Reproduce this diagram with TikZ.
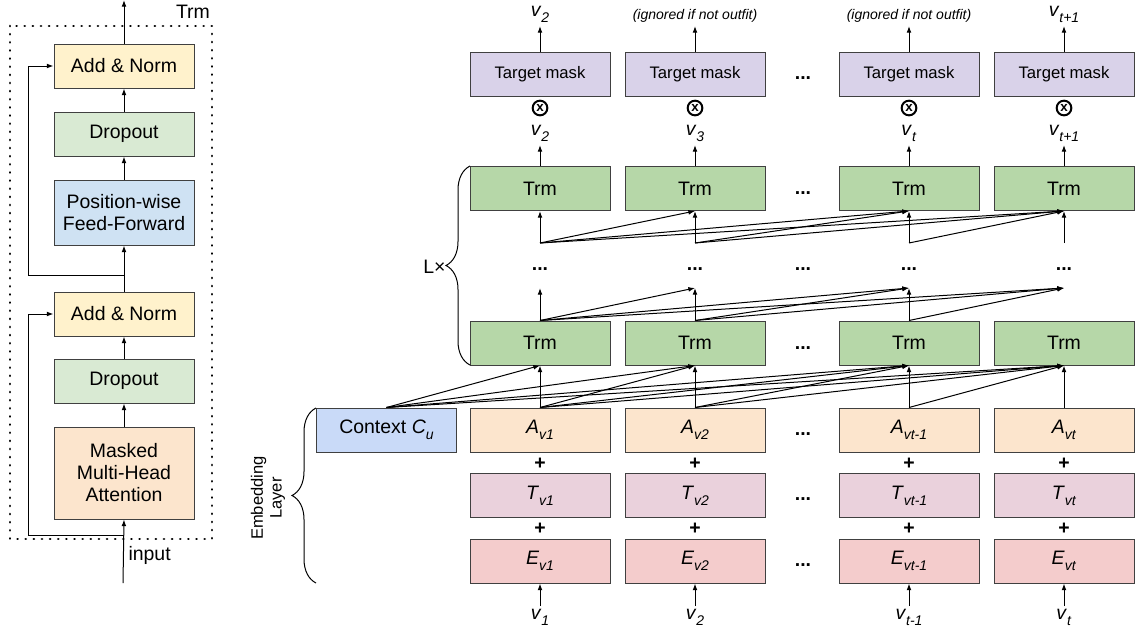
\documentclass[tikz,border=0pt]{standalone}
\usepackage{fontspec}
\setmainfont{Liberation Sans}
\usetikzlibrary{arrows.meta,decorations.pathreplacing}

\definecolor{cAddNorm}{HTML}{FFF2CC}
\definecolor{cDrop}{HTML}{D9EAD3}
\definecolor{cFfn}{HTML}{CFE2F3}
\definecolor{cAttn}{HTML}{FCE5CD}
\definecolor{cTrm}{HTML}{B6D7A8}
\definecolor{cMask}{HTML}{D9D2E9}
\definecolor{cCtx}{HTML}{C9DAF8}
\definecolor{cAemb}{HTML}{FCE5CD}
\definecolor{cTemb}{HTML}{EAD1DC}
\definecolor{cEemb}{HTML}{F4CCCC}

\newcommand{\mainfs}{\fontsize{14.6}{16.5}\selectfont}
\newcommand{\smallfs}{\fontsize{10.5}{12}\selectfont}
\newcommand{\lsub}[2]{\textit{#1}\raisebox{-0.6ex}{\smallfs\textit{#2}}}

\tikzset{every picture/.style={line width=0.75pt},
  blk/.style={draw=black!75, minimum width=105pt, minimum height=33pt, inner sep=0pt, font=\mainfs, align=center},
  arr/.style={-{Latex[length=5pt,width=3.6pt]}},
  lbl/.style={font=\mainfs, inner sep=2pt},
  dotsl/.style={font=\mainfs\bfseries, inner sep=0pt},
  mul/.style={circle, draw, line width=1.5pt, minimum size=11pt, inner sep=0pt, font=\fontsize{10}{10}\selectfont\bfseries},
  brc/.style={decorate, decoration={brace, amplitude=18pt}}
}

\begin{document}
\begin{tikzpicture}[x=0.75pt,y=0.75pt,yscale=-1,xscale=1]
\useasboundingbox (0,0) rectangle (1139,639);

%Shape: Trm block (left)
\draw [dash pattern=on 0.1pt off 6pt, line cap=round, line width=2pt] (10,26) rectangle (212,539) ;
\node [font=\mainfs] (trmlabel) at (193,12) {Trm};
\node [blk, fill=cAddNorm] (addnorm2) at (124,66) {Add \& Norm};
\node [blk, fill=cDrop] (drop2) at (124,134) {Dropout};
\node [blk, fill=cFfn, minimum height=48.75pt] (ffn) at (124,212.5) {Position-wise\\Feed-Forward};
\node [blk, fill=cAddNorm] (addnorm1) at (124,314) {Add \& Norm};
\node [blk, fill=cDrop] (drop1) at (124,381) {Dropout};
\node [blk, fill=cAttn, minimum height=69pt] (mha) at (124,473) {Masked\\Multi-Head\\Attention};
% Text Node
\node [font=\mainfs, anchor=west, inner sep=0pt] (inputlabel) at (128,555) {input};
\coordinate (inp) at (123,583);
\coordinate (ltop) at (124,0);
\coordinate (res1) at (124,535);
\coordinate (res2) at (124,275);

%Straight Lines
\draw [arr] (inp) -- (mha.south) ;
\draw [arr] (mha) -- (drop1) ;
\draw [arr] (drop1) -- (addnorm1) ;
\draw [arr] (addnorm1) -- (ffn) ;
\draw [arr] (ffn) -- (drop2) ;
\draw [arr] (drop2) -- (addnorm2) ;
\draw [arr] (addnorm2) -- (ltop) ;
\draw [arr] (res1) -- ++(-96,0) |- (addnorm1.west) ;
\draw [arr] (res2) -- ++(-96,0) |- (addnorm2.west) ;

%Shape: output masks
\node [blk, fill=cMask, font=\fontsize{12.5}{14}\selectfont] (mask1) at (540,74) {Target mask};
\node [blk, fill=cMask, font=\fontsize{12.5}{14}\selectfont] (mask2) at (695,74) {Target mask};
\node [blk, fill=cMask, font=\fontsize{12.5}{14}\selectfont] (mask3) at (909,74) {Target mask};
\node [blk, fill=cMask, font=\fontsize{12.5}{14}\selectfont] (mask4) at (1064,74) {Target mask};
\node [dotsl] (dmask) at (803,78) {...};

\node [lbl, anchor=south] (vo1) at (540,26) {\lsub{v}{2}};
\node [lbl, anchor=south, font=\smallfs\itshape] (vo2) at (695,26) {(ignored if not outfit)};
\node [lbl, anchor=south, font=\smallfs\itshape] (vo3) at (909,26) {(ignored if not outfit)};
\node [lbl, anchor=south] (vo4) at (1064,26) {\lsub{v}{t+1}};
\draw [arr] (mask1) -- (vo1) ;
\draw [arr] (mask2) -- (vo2) ;
\draw [arr] (mask3) -- (vo3) ;
\draw [arr] (mask4) -- (vo4) ;

\node [mul] (ox1) at (540,108) {x};
\node [mul] (ox2) at (695,108) {x};
\node [mul] (ox3) at (909,108) {x};
\node [mul] (ox4) at (1064,108) {x};

\node [lbl, anchor=south] (vm1) at (540,145) {\lsub{v}{2}};
\node [lbl, anchor=south] (vm2) at (695,145) {\lsub{v}{3}};
\node [lbl, anchor=south] (vm3) at (909,145) {\lsub{v}{t}};
\node [lbl, anchor=south] (vm4) at (1064,145) {\lsub{v}{t+1}};

%Shape: Trm layers
\node [blk, fill=cTrm] (trmu1) at (540,188.5) {Trm};
\node [blk, fill=cTrm] (trmu2) at (695,188.5) {Trm};
\node [blk, fill=cTrm] (trmu3) at (909,188.5) {Trm};
\node [blk, fill=cTrm] (trmu4) at (1064,188.5) {Trm};
\node [dotsl] (dtrmu) at (803,193) {...};
\node [blk, fill=cTrm] (trml1) at (540,343) {Trm};
\node [blk, fill=cTrm] (trml2) at (695,343) {Trm};
\node [blk, fill=cTrm] (trml3) at (909,343) {Trm};
\node [blk, fill=cTrm] (trml4) at (1064,343) {Trm};
\node [dotsl] (dtrml) at (803,348) {...};

\draw [arr] (trmu1) -- (vm1) ;
\draw [arr] (trmu2) -- (vm2) ;
\draw [arr] (trmu3) -- (vm3) ;
\draw [arr] (trmu4) -- (vm4) ;

% Text Node
\node [dotsl] (dmid1) at (540,269) {...};
\node [dotsl] (dmid2) at (695,269) {...};
\node [dotsl] (dmid0) at (803,269) {...};
\node [dotsl] (dmid3) at (909,269) {...};
\node [dotsl] (dmid4) at (1064,269) {...};

\coordinate (mid1) at (540,288);
\coordinate (mid2) at (695,288);
\coordinate (mid3) at (909,288);
\coordinate (mid4) at (1064,288);
\coordinate (src1) at (540,243);
\coordinate (src2) at (695,243);
\coordinate (src3) at (909,243);
\coordinate (src4) at (1064,243);

%Straight Lines: lower Trm to next layer
\draw [arr] (trml1.north) -- (mid1) ;
\draw [arr] (trml1.north) -- (mid2) ;
\draw [arr] (trml1.north) -- (mid3) ;
\draw [arr] (trml1.north) -- (mid4) ;
\draw [arr] (trml2.north) -- (mid2) ;
\draw [arr] (trml2.north) -- (mid3) ;
\draw [arr] (trml2.north) -- (mid4) ;
\draw [arr] (trml3.north) -- (mid3) ;
\draw [arr] (trml3.north) -- (mid4) ;

%Straight Lines: previous layer to upper Trm
\draw [arr] (src1) -- (trmu1.south) ;
\draw [arr] (src1) -- (trmu2.south) ;
\draw [arr] (src1) -- (trmu3.south) ;
\draw [arr] (src1) -- (trmu4.south) ;
\draw [arr] (src2) -- (trmu2.south) ;
\draw [arr] (src2) -- (trmu3.south) ;
\draw [arr] (src2) -- (trmu4.south) ;
\draw [arr] (src3) -- (trmu3.south) ;
\draw [arr] (src3) -- (trmu4.south) ;
\draw [arr] (src4) -- (trmu4.south) ;

%Shape: embedding layer
\node [blk, fill=cCtx] (ctx) at (386.5,430) {Context \lsub{C}{u}};
\node [blk, fill=cAemb] (emba1) at (540,430) {\lsub{A}{v1}};
\node [blk, fill=cAemb] (emba2) at (695,430) {\lsub{A}{v2}};
\node [blk, fill=cAemb] (emba3) at (909,430) {\lsub{A}{vt-1}};
\node [blk, fill=cAemb] (emba4) at (1064,430) {\lsub{A}{vt}};
\node [dotsl] (demba) at (803,434) {...};
\node [blk, fill=cTemb] (embt1) at (540,495.5) {\lsub{T}{v1}};
\node [blk, fill=cTemb] (embt2) at (695,495.5) {\lsub{T}{v2}};
\node [blk, fill=cTemb] (embt3) at (909,495.5) {\lsub{T}{vt-1}};
\node [blk, fill=cTemb] (embt4) at (1064,495.5) {\lsub{T}{vt}};
\node [dotsl] (dembt) at (803,499) {...};
\node [blk, fill=cEemb] (embe1) at (540,561) {\lsub{E}{v1}};
\node [blk, fill=cEemb] (embe2) at (695,561) {\lsub{E}{v2}};
\node [blk, fill=cEemb] (embe3) at (909,561) {\lsub{E}{vt-1}};
\node [blk, fill=cEemb] (embe4) at (1064,561) {\lsub{E}{vt}};
\node [dotsl] (dembe) at (803,565) {...};

% plus signs
\node [font=\mainfs\bfseries] (pa1) at (540,464) {+};
\node [font=\mainfs\bfseries] (pa2) at (695,464) {+};
\node [font=\mainfs\bfseries] (pa3) at (909,464) {+};
\node [font=\mainfs\bfseries] (pa4) at (1064,464) {+};
\node [font=\mainfs\bfseries] (pb1) at (540,529) {+};
\node [font=\mainfs\bfseries] (pb2) at (695,529) {+};
\node [font=\mainfs\bfseries] (pb3) at (909,529) {+};
\node [font=\mainfs\bfseries] (pb4) at (1064,529) {+};

% inputs
\node [lbl, anchor=north] (vi1) at (540,606) {\lsub{v}{1}};
\node [lbl, anchor=north] (vi2) at (695,606) {\lsub{v}{2}};
\node [lbl, anchor=north] (vi3) at (909,606) {\lsub{v}{t-1}};
\node [lbl, anchor=north] (vi4) at (1064,606) {\lsub{v}{t}};
\draw [arr] (vi1) -- (embe1) ;
\draw [arr] (vi2) -- (embe2) ;
\draw [arr] (vi3) -- (embe3) ;
\draw [arr] (vi4) -- (embe4) ;

%Straight Lines: embeddings to first Trm layer
\draw [arr] (ctx.north) -- (trml1.south) ;
\draw [arr] (ctx.north) -- (trml2.south) ;
\draw [arr] (ctx.north) -- (trml3.south) ;
\draw [arr] (ctx.north) -- (trml4.south) ;
\draw [arr] (emba1.north) -- (trml1.south) ;
\draw [arr] (emba1.north) -- (trml2.south) ;
\draw [arr] (emba1.north) -- (trml3.south) ;
\draw [arr] (emba1.north) -- (trml4.south) ;
\draw [arr] (emba2.north) -- (trml2.south) ;
\draw [arr] (emba2.north) -- (trml3.south) ;
\draw [arr] (emba2.north) -- (trml4.south) ;
\draw [arr] (emba3.north) -- (trml3.south) ;
\draw [arr] (emba3.north) -- (trml4.south) ;
\draw [arr] (emba4.north) -- (trml4.south) ;

%Braces
\coordinate (lbot) at (470,365);
\coordinate (ltopb) at (470,166);
\draw [brc] (lbot) -- (ltopb) ;
\node [font=\mainfs, anchor=east, inner sep=0pt] (lx) at (446,267) {L×};
\coordinate (ebot) at (316,583);
\coordinate (etop) at (316,408);
\draw [brc] (ebot) -- (etop) ;
\node [font=\fontsize{12.4}{14}\selectfont, rotate=90, align=center] (emblabel) at (268,498) {Embedding\\Layer};

\end{tikzpicture}
\end{document}
